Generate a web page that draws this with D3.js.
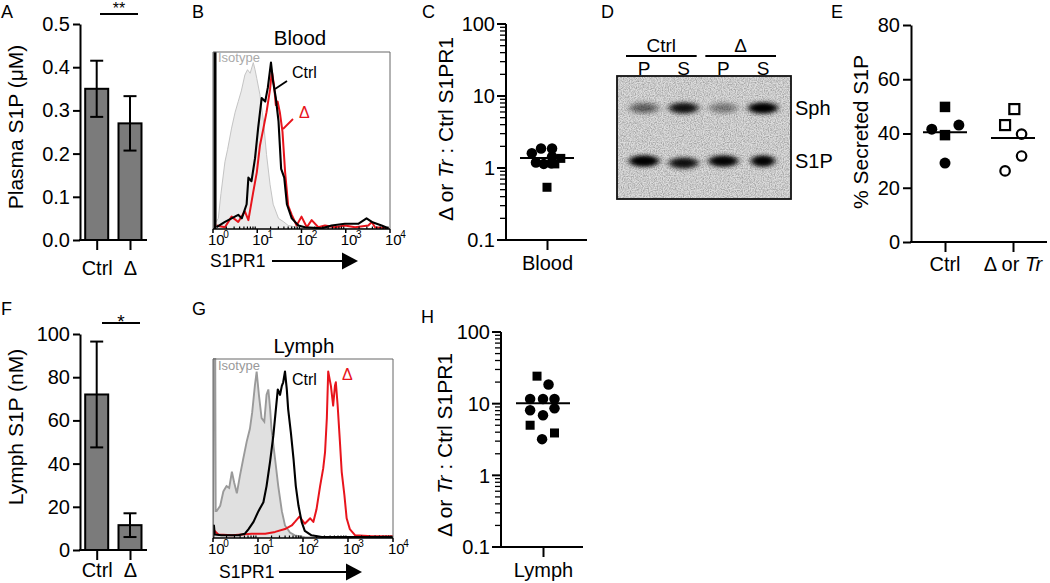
<!DOCTYPE html>
<html><head><meta charset="utf-8">
<script src="https://cdn.jsdelivr.net/npm/d3@7"></script>
<style>
html,body{margin:0;padding:0;background:#fff}
svg{display:block;font-family:"Liberation Sans",Arial,Helvetica,sans-serif}
</style>
</head><body>
<svg id="c" width="1050" height="583"></svg>
<script>
// ---------------- DATA ----------------
const barCats = ["Ctrl", "Δ"];
const plasmaMean = [0.35, 0.27];
const plasmaErr = [0.065, 0.063];
const plasmaTicks = [0, 0.1, 0.2, 0.3, 0.4, 0.5];
const lymphMean = [72, 11.5];
const lymphErr = [24.5, 5.5];
const lymphTicks = [0, 20, 40, 60, 80, 100];

// flow histograms: [log10 fluorescence, fraction of max height]
const bloodIso = [[0.0,0],[0.02,1],[0.06,1],[0.07,0.04],[0.12,0.06],[0.18,0.2],[0.27,0.38],[0.33,0.45],[0.42,0.57],[0.5,0.66],[0.57,0.72],[0.64,0.78],[0.72,0.87],[0.78,0.9],[0.84,0.88],[0.91,0.94],[0.95,0.9],[0.99,0.85],[1.06,0.76],[1.14,0.61],[1.21,0.42],[1.29,0.25],[1.36,0.14],[1.48,0.06],[1.6,0.04],[1.7,0.02],[1.9,0.01],[4,0]];
const bloodCtrl = [[0.08,0.01],[0.27,0.04],[0.42,0.06],[0.57,0.08],[0.65,0.06],[0.76,0.14],[0.8,0.29],[0.87,0.27],[0.95,0.4],[1.02,0.57],[1.1,0.74],[1.18,0.72],[1.24,0.8],[1.31,0.94],[1.36,0.83],[1.42,0.74],[1.48,0.61],[1.54,0.34],[1.61,0.29],[1.67,0.14],[1.78,0.06],[1.93,0.02],[2.08,0.01],[2.46,0.004],[2.68,0.02],[2.98,0.03],[3.29,0.03],[3.47,0.06],[3.59,0.04],[3.81,0.02],[3.96,0.004]];
const bloodDelta = [[0.08,0.02],[0.27,0.01],[0.42,0.07],[0.57,0.04],[0.72,0.1],[0.8,0.05],[0.91,0.21],[0.99,0.32],[1.06,0.47],[1.14,0.57],[1.21,0.66],[1.29,0.79],[1.33,0.89],[1.38,0.81],[1.42,0.7],[1.46,0.72],[1.51,0.66],[1.57,0.55],[1.63,0.32],[1.7,0.13],[1.78,0.08],[1.89,0.02],[2.0,0.07],[2.12,0.01],[2.23,0.05],[2.38,0.01],[2.53,0.02],[2.76,0.01],[2.98,0.02],[3.21,0.01],[3.51,0.02],[3.59,0.04],[3.66,0.01],[3.96,0.004]];
const lymphIso = [[0.0,0],[0.02,1],[0.05,1],[0.06,0.15],[0.08,0.15],[0.16,0.18],[0.23,0.26],[0.3,0.29],[0.36,0.28],[0.42,0.37],[0.47,0.31],[0.53,0.25],[0.6,0.35],[0.67,0.44],[0.75,0.54],[0.82,0.61],[0.87,0.7],[0.93,0.85],[0.97,0.93],[1.02,0.8],[1.08,0.67],[1.14,0.65],[1.19,0.8],[1.23,0.83],[1.27,0.72],[1.3,0.61],[1.38,0.44],[1.45,0.29],[1.53,0.15],[1.6,0.07],[1.71,0.03],[1.82,0.015],[2.04,0.005],[4,0]];
const lymphCtrl = [[0.005,0],[0.02,0.07],[0.04,0.02],[0.19,0.015],[0.56,0.015],[0.71,0.024],[0.79,0.05],[0.9,0.09],[1.01,0.15],[1.12,0.2],[1.19,0.29],[1.27,0.43],[1.34,0.57],[1.39,0.7],[1.44,0.83],[1.49,0.8],[1.53,0.85],[1.56,0.87],[1.6,0.93],[1.64,0.83],[1.67,0.72],[1.73,0.59],[1.79,0.44],[1.84,0.29],[1.9,0.18],[1.97,0.09],[2.04,0.04],[2.19,0.015],[2.42,0.006],[4,0.005]];
const lymphDelta = [[0.01,0.05],[0.03,0.04],[0.12,0.02],[0.42,0.015],[0.86,0.024],[1.16,0.024],[1.38,0.034],[1.6,0.05],[1.75,0.07],[1.82,0.09],[1.92,0.12],[2.04,0.08],[2.16,0.11],[2.23,0.09],[2.3,0.16],[2.38,0.29],[2.45,0.39],[2.49,0.48],[2.53,0.67],[2.56,0.93],[2.62,0.85],[2.67,0.74],[2.71,0.85],[2.73,0.87],[2.77,0.74],[2.82,0.54],[2.86,0.37],[2.92,0.24],[2.97,0.11],[3.04,0.05],[3.16,0.015],[3.53,0.01],[4.0,0.01]];
const flowDecades = [0, 1, 2, 3, 4];

// ratio scatter (C, H)
const bloodRatio = [1.60, 1.87, 1.87, 1.19, 1.14, 1.16, 1.44, 1.14, 1.36, 0.54];
const bloodShape = ["c","c","c","c","c","c","c","s","s","s"];
const bloodJitter = [-0.33, -0.13, 0.11, -0.24, -0.07, 0.09, 0.11, 0.17, 0.3, 0];
const bloodMedian = 1.38;
const lymphRatio = [24.2, 18.5, 11.6, 11.6, 11.6, 8.1, 8.6, 6.9, 5.0, 3.9, 3.2];
const lymphShape = ["s","c","c","c","c","c","c","c","s","s","c"];
const lymphJitter = [-0.13, 0.12, -0.28, 0, 0.25, -0.28, 0.25, 0, -0.28, 0.25, -0.02];
const lymphMedian = 10.1;
const logMajor = [0.1, 1, 10, 100];

// gel (D)
const gelGroups = ["Ctrl", "Δ"];
const gelLanes = ["P", "S", "P", "S"];
const gelSph = [0.42, 0.85, 0.3, 1.0];
const gelS1P = [1.0, 0.82, 0.95, 0.97];

// secreted S1P (E)
const secCats = ["Ctrl", "Δ or Tr"];
const secCtrl = [41.6, 49.8, 39.4, 43.1, 29.1];
const secCtrlShape = ["c","s","s","c","c"];
const secCtrlJitter = [-0.2, 0, 0, 0.21, 0];
const secDelta = [43.1, 49.0, 39.8, 31.7, 26.2];
const secDeltaShape = ["s","s","c","c","c"];
const secDeltaJitter = [-0.12, 0.02, 0.13, 0.13, -0.12];
const secMedian = [40.5, 38.3];
const secTicks = [0, 20, 40, 60, 80];

// ---------------- DRAW ----------------
const svg = d3.select("#c");
const defs = svg.append("defs");

function styleAxis(g, fs) {
  g.selectAll("path,line").attr("stroke", "#000").attr("stroke-width", 2);
  g.selectAll("text").attr("font-size", fs).attr("fill", "#000");
}
function letter(t, x, y) {
  svg.append("text").attr("x", x).attr("y", y).attr("font-size", 18).text(t);
}
function vlabel(x, y, parts, fs) {
  const t = svg.append("text").attr("transform", `translate(${x},${y}) rotate(-90)`)
    .attr("text-anchor", "middle").attr("font-size", fs);
  parts.forEach(p => t.append("tspan").attr("font-style", p[1] ? "italic" : null).text(p[0]));
}
function marker(g, shape, x, y, size, open) {
  if (shape === "c") {
    g.append("circle").attr("cx", x).attr("cy", y).attr("r", size / 2 - (open ? 1 : 0))
      .attr("fill", open ? "#fff" : "#000").attr("stroke", "#000").attr("stroke-width", open ? 2.2 : 0);
  } else {
    const s = size - (open ? 1.5 : 0.5);
    g.append("rect").attr("x", x - s / 2).attr("y", y - s / 2).attr("width", s).attr("height", s)
      .attr("fill", open ? "#fff" : "#000").attr("stroke", "#000").attr("stroke-width", open ? 2.2 : 0);
  }
}

// ---- Bar panels (A, F)
function barPanel(o) {
  const g = svg.append("g");
  const y = d3.scaleLinear().domain([0, o.ticks[o.ticks.length - 1]]).range([o.bottom, o.top]);
  const x = d3.scalePoint().domain(barCats).range([96.7, 130]);
  const bw = 23;
  g.selectAll("rect.bar").data(o.means).join("rect")
    .attr("x", (d, i) => x(barCats[i]) - bw / 2).attr("y", d => y(d))
    .attr("width", bw).attr("height", d => y(0) - y(d))
    .attr("fill", "#7b7b7b").attr("stroke", "#000").attr("stroke-width", 2);
  o.means.forEach((m, i) => {
    const cx = x(barCats[i]), e = o.errs[i];
    g.append("line").attr("x1", cx).attr("x2", cx).attr("y1", y(m + e)).attr("y2", y(m - e));
    g.append("line").attr("x1", cx - 6.5).attr("x2", cx + 6.5).attr("y1", y(m + e)).attr("y2", y(m + e));
    g.append("line").attr("x1", cx - 6.5).attr("x2", cx + 6.5).attr("y1", y(m - e)).attr("y2", y(m - e));
  });
  g.selectAll("line").attr("stroke", "#000").attr("stroke-width", 2);
  const ya = g.append("g").attr("transform", "translate(80,0)")
    .call(d3.axisLeft(y).tickValues(o.ticks).tickFormat(o.fmt).tickSize(7).tickSizeOuter(0).tickPadding(3));
  styleAxis(ya, 20);
  g.append("line").attr("x1", 79).attr("x2", 147).attr("y1", o.bottom).attr("y2", o.bottom)
    .attr("stroke", "#000").attr("stroke-width", 2);
  const xa = g.append("g").attr("transform", `translate(0,${o.bottom})`)
    .call(d3.axisBottom(x).tickSize(10).tickPadding(o.catPad));
  xa.select(".domain").remove();
  styleAxis(xa, 20);
  g.append("line").attr("x1", o.sig[0]).attr("x2", o.sig[1]).attr("y1", o.sigY).attr("y2", o.sigY)
    .attr("stroke", "#000").attr("stroke-width", 2);
  g.append("text").attr("x", (o.sig[0] + o.sig[1]) / 2).attr("y", o.sigTextY)
    .attr("text-anchor", "middle").attr("font-size", o.sigFs).text(o.sigText);
}
barPanel({means: plasmaMean, errs: plasmaErr, ticks: plasmaTicks, fmt: d3.format(".1f"),
  top: 24, bottom: 240, sig: [100, 138], sigY: 14, sigText: "**", sigTextY: 14, sigFs: 16, catPad: 11});
barPanel({means: lymphMean, errs: lymphErr, ticks: lymphTicks, fmt: d3.format("d"),
  top: 334, bottom: 550, sig: [102, 140], sigY: 323, sigText: "*", sigTextY: 328, sigFs: 19, catPad: 3});
vlabel(23, 127, [["Plasma S1P (μM)"]], 21);
vlabel(23, 427, [["Lymph S1P (nM)"]], 21);

// ---- Flow panels (B, G)
function flowPanel(o) {
  const g = svg.append("g");
  const x = d3.scaleLinear().domain([0, 4]).range([o.x0, o.x1]);
  const y = d3.scaleLinear().domain([0, 1]).range([o.y1, o.y0]);
  const cid = "clip" + o.id;
  defs.append("clipPath").attr("id", cid).append("rect")
    .attr("x", o.x0).attr("y", o.y0 - 1).attr("width", o.x1 - o.x0).attr("height", o.y1 - o.y0 + 1);
  const pg = g.append("g").attr("clip-path", `url(#${cid})`);
  const area = d3.area().x(d => x(d[0])).y0(y(0)).y1(d => y(d[1]));
  const line = d3.line().x(d => x(d[0])).y(d => y(d[1]));
  pg.append("path").datum(o.iso).attr("d", area).attr("fill", o.isoFill);
  pg.append("path").datum(o.iso).attr("d", line).attr("fill", "none")
    .attr("stroke", o.isoStroke).attr("stroke-width", o.isoW);
  pg.append("path").datum(o.delta).attr("d", line).attr("fill", "none")
    .attr("stroke", "#e8141c").attr("stroke-width", 2).attr("stroke-linejoin", "round");
  pg.append("path").datum(o.ctrl).attr("d", line).attr("fill", "none")
    .attr("stroke", "#000").attr("stroke-width", 2.1).attr("stroke-linejoin", "round");
  if (o.spike) pg.append("line").attr("x1", o.x0 + 2).attr("x2", o.x0 + 2).attr("y1", o.y0).attr("y2", o.y1)
    .attr("stroke", "#000").attr("stroke-width", 3);
  // frame
  g.append("path").attr("d", `M${o.x0},${o.y1}V${o.y0}H${o.x1}V${o.y1}`)
    .attr("fill", "none").attr("stroke", "#666").attr("stroke-width", 1);
  g.append("line").attr("x1", o.x0).attr("x2", o.x1).attr("y1", o.y1).attr("y2", o.y1)
    .attr("stroke", "#000").attr("stroke-width", 1.6);
  // ticks
  for (let dcd = 0; dcd < 4; dcd++) {
    for (let k = 2; k <= 9; k++) {
      const xx = x(dcd + Math.log10(k));
      g.append("line").attr("x1", xx).attr("x2", xx).attr("y1", o.y1).attr("y2", o.y1 - 2.5)
        .attr("stroke", "#000").attr("stroke-width", 1.2);
    }
  }
  flowDecades.forEach(dcd => {
    g.append("line").attr("x1", x(dcd)).attr("x2", x(dcd)).attr("y1", o.y1).attr("y2", o.y1 + 4)
      .attr("stroke", "#000").attr("stroke-width", 1.5);
    const t = g.append("text").attr("x", x(dcd) - 5).attr("y", o.y1 + 16).attr("font-size", 15);
    t.append("tspan").text("10");
    t.append("tspan").attr("font-size", 10).attr("dx", -1.5).attr("dy", -7).text(dcd);
  });
  g.append("text").attr("x", o.titleX).attr("y", o.titleY).attr("text-anchor", "middle")
    .attr("font-size", 20.5).text(o.title);
  g.append("text").attr("x", 218).attr("y", o.isoY).attr("font-size", 13).attr("fill", o.isoText).text("Isotype");
  g.append("text").attr("x", o.ctrlLab[0]).attr("y", o.ctrlLab[1]).attr("font-size", 16).text("Ctrl");
  g.append("text").attr("x", o.dLab[0]).attr("y", o.dLab[1]).attr("font-size", 16).attr("fill", "#e8141c").text("Δ");
  if (o.ctrlPtr) g.append("line").attr("x1", o.ctrlPtr[0]).attr("y1", o.ctrlPtr[1]).attr("x2", o.ctrlPtr[2]).attr("y2", o.ctrlPtr[3])
    .attr("stroke", "#000").attr("stroke-width", 1.8);
  if (o.dPtr) g.append("line").attr("x1", o.dPtr[0]).attr("y1", o.dPtr[1]).attr("x2", o.dPtr[2]).attr("y2", o.dPtr[3])
    .attr("stroke", "#e8141c").attr("stroke-width", 1.8);
  // S1PR1 arrow
  g.append("text").attr("x", o.s1x).attr("y", o.s1y).attr("font-size", 17.5).text("S1PR1");
  g.append("line").attr("x1", o.arr[0]).attr("x2", o.arr[1] - 14).attr("y1", o.arr[2]).attr("y2", o.arr[2])
    .attr("stroke", "#000").attr("stroke-width", 2);
  g.append("path").attr("d", `M${o.arr[1] - 16},${o.arr[2] - 8.5}L${o.arr[1]},${o.arr[2]}L${o.arr[1] - 16},${o.arr[2] + 8.5}Z`)
    .attr("fill", "#000");
}
flowPanel({id: "B", x0: 213, x1: 390, y0: 52, y1: 229, iso: bloodIso, ctrl: bloodCtrl, delta: bloodDelta,
  isoFill: "#ebebeb", isoStroke: "#c4c4c4", isoW: 1, isoText: "#aaa", spike: true,
  title: "Blood", titleX: 300, titleY: 45, isoY: 62,
  ctrlLab: [292, 78], dLab: [299, 118], ctrlPtr: [287, 81, 275, 89], dPtr: [293, 119, 283, 129],
  s1x: 210, s1y: 267, arr: [272, 358, 261]});
flowPanel({id: "G", x0: 213, x1: 393, y0: 359, y1: 538, iso: lymphIso, ctrl: lymphCtrl, delta: lymphDelta,
  isoFill: "#e0e0e0", isoStroke: "#9a9a9a", isoW: 1.9, isoText: "#999", spike: false,
  title: "Lymph", titleX: 304, titleY: 353, isoY: 370,
  ctrlLab: [292, 385], dLab: [342, 380],
  s1x: 219, s1y: 578, arr: [279, 362, 572]});

// ---- Log ratio panels (C, H)
function logPanel(o) {
  const g = svg.append("g");
  const y = d3.scaleLog().domain([0.1, 100]).range([o.bottom, o.top]);
  const ticks = y.ticks();
  ticks.forEach(t => {
    const major = logMajor.includes(+t.toPrecision(3));
    g.append("line").attr("x1", o.ax - (major ? 9 : 6)).attr("x2", o.ax).attr("y1", y(t)).attr("y2", y(t))
      .attr("stroke", "#000").attr("stroke-width", major ? 2 : 1.3);
  });
  logMajor.forEach(t => {
    g.append("text").attr("x", o.ax - 11).attr("y", y(t)).attr("dy", "0.36em").attr("text-anchor", "end")
      .attr("font-size", 20).text(d3.format("~g")(t));
  });
  g.append("line").attr("x1", o.ax).attr("x2", o.ax).attr("y1", o.top).attr("y2", o.bottom + 1)
    .attr("stroke", "#000").attr("stroke-width", 2);
  g.append("line").attr("x1", o.ax - 1).attr("x2", o.xEnd).attr("y1", o.bottom).attr("y2", o.bottom)
    .attr("stroke", "#000").attr("stroke-width", 2);
  const x = d3.scalePoint().domain([o.cat]).range([o.cx, o.cx]);
  const xa = g.append("g").attr("transform", `translate(0,${o.bottom})`)
    .call(d3.axisBottom(x).tickSize(10).tickPadding(6));
  xa.select(".domain").remove();
  styleAxis(xa, 20);
  const w = 46;
  o.vals.forEach((v, i) => marker(g, o.shapes[i], x(o.cat) + o.jit[i] * w, y(v), o.shapes[i] === "c" ? 10.5 : 9.5, false));
  g.append("line").attr("x1", x(o.cat) - 27).attr("x2", x(o.cat) + 27).attr("y1", y(o.median)).attr("y2", y(o.median))
    .attr("stroke", "#000").attr("stroke-width", 2);
  vlabel(o.lx, o.ly, [["Δ or "], ["Tr", true], [" : Ctrl S1PR1"]], 21);
}
logPanel({ax: 506, top: 24, bottom: 240, xEnd: 587, cx: 547, cat: "Blood", vals: bloodRatio,
  shapes: bloodShape, jit: bloodJitter, median: bloodMedian, lx: 453, ly: 129});
logPanel({ax: 501, top: 332, bottom: 547, xEnd: 583, cx: 543, cat: "Lymph", vals: lymphRatio,
  shapes: lymphShape, jit: lymphJitter, median: lymphMedian, lx: 452, ly: 445});

// ---- Gel (D)
(function () {
  const g = svg.append("g");
  const gx0 = 617, gx1 = 791, gy0 = 76, gy1 = 199;
  const f = defs.append("filter").attr("id", "noise").attr("x", 0).attr("y", 0).attr("width", "100%").attr("height", "100%");
  f.append("feTurbulence").attr("type", "fractalNoise").attr("baseFrequency", 0.85).attr("numOctaves", 2).attr("seed", 4);
  f.append("feColorMatrix").attr("type", "matrix")
    .attr("values", "0 0 0 0 0  0 0 0 0 0  0 0 0 0 0  1.6 0 0 0 -0.55");
  const blur = defs.append("filter").attr("id", "bblur").attr("x", "-50%").attr("y", "-100%").attr("width", "200%").attr("height", "300%");
  blur.append("feGaussianBlur").attr("stdDeviation", "3.2 2.2");
  const gc = "gelclip";
  defs.append("clipPath").attr("id", gc).append("rect").attr("x", gx0).attr("y", gy0).attr("width", gx1 - gx0).attr("height", gy1 - gy0);
  const inner = g.append("g").attr("clip-path", `url(#${gc})`);
  inner.append("rect").attr("x", gx0).attr("y", gy0).attr("width", gx1 - gx0).attr("height", gy1 - gy0).attr("fill", "#dcdcdc");
  inner.append("rect").attr("x", gx0).attr("y", gy0).attr("width", gx1 - gx0).attr("height", gy1 - gy0)
    .attr("filter", "url(#noise)").attr("opacity", 0.35);
  const lx = d3.scalePoint().domain(d3.range(gelLanes.length)).range([644, 763]);
  const ry = d3.scalePoint().domain(["Sph", "S1P"]).range([108, 161]);
  gelSph.forEach((v, i) => {
    inner.append("ellipse").attr("cx", lx(i)).attr("cy", ry("Sph")).attr("rx", 15).attr("ry", 5.5)
      .attr("fill", "#000").attr("opacity", v).attr("filter", "url(#bblur)");
    inner.append("ellipse").attr("cx", lx(i)).attr("cy", ry("Sph")).attr("rx", 9).attr("ry", 3)
      .attr("fill", "#000").attr("opacity", v * 0.6).attr("filter", "url(#bblur)");
  });
  gelS1P.forEach((v, i) => {
    const dy = i === 1 ? 2 : 0;
    inner.append("ellipse").attr("cx", lx(i)).attr("cy", ry("S1P") + dy).attr("rx", i === 3 ? 12 : 15).attr("ry", 5.5)
      .attr("fill", "#000").attr("opacity", v).attr("filter", "url(#bblur)");
    inner.append("ellipse").attr("cx", lx(i)).attr("cy", ry("S1P") + dy).attr("rx", i === 3 ? 8 : 10).attr("ry", 3.2)
      .attr("fill", "#000").attr("opacity", v * 0.8).attr("filter", "url(#bblur)");
  });
  g.append("rect").attr("x", gx0).attr("y", gy0).attr("width", gx1 - gx0).attr("height", gy1 - gy0)
    .attr("fill", "none").attr("stroke", "#111").attr("stroke-width", 1.8);
  gelLanes.forEach((l, i) => g.append("text").attr("x", lx(i)).attr("y", 75).attr("text-anchor", "middle")
    .attr("font-size", 19).text(l));
  gelGroups.forEach((gr, j) => {
    const a = lx(2 * j) - 18, b = lx(2 * j + 1) + 13;
    g.append("line").attr("x1", a).attr("x2", b).attr("y1", 56).attr("y2", 56).attr("stroke", "#000").attr("stroke-width", 1.8);
    g.append("text").attr("x", (a + b) / 2).attr("y", 52).attr("text-anchor", "middle").attr("font-size", 19).text(gr);
  });
  g.append("text").attr("x", 795).attr("y", ry("Sph") + 7).attr("font-size", 20).text("Sph");
  g.append("text").attr("x", 795).attr("y", ry("S1P") + 7).attr("font-size", 20).text("S1P");
})();

// ---- Secreted S1P (E)
(function () {
  const g = svg.append("g");
  const y = d3.scaleLinear().domain([0, 80]).range([242, 25]);
  const x = d3.scalePoint().domain(secCats).range([945, 1013]);
  const ya = g.append("g").attr("transform", "translate(911,0)")
    .call(d3.axisLeft(y).tickValues(secTicks).tickSize(8).tickSizeOuter(0).tickPadding(3));
  styleAxis(ya, 20);
  g.append("line").attr("x1", 910).attr("x2", 1047).attr("y1", 242).attr("y2", 242).attr("stroke", "#000").attr("stroke-width", 2);
  const xa = g.append("g").attr("transform", "translate(0,242)")
    .call(d3.axisBottom(x).tickSize(10).tickPadding(6).tickFormat(() => ""));
  xa.select(".domain").remove();
  styleAxis(xa, 20);
  secCats.forEach(c => {
    const t = g.append("text").attr("x", x(c)).attr("y", 271).attr("text-anchor", "middle").attr("font-size", 20);
    if (c === "Ctrl") t.text(c);
    else { t.append("tspan").text("Δ or "); t.append("tspan").attr("font-style", "italic").text("Tr"); }
  });
  const w = 66;
  secCtrl.forEach((v, i) => marker(g, secCtrlShape[i], x(secCats[0]) + secCtrlJitter[i] * w, y(v), 11, false));
  secDelta.forEach((v, i) => marker(g, secDeltaShape[i], x(secCats[1]) + secDeltaJitter[i] * w, y(v), 11.5, true));
  secMedian.forEach((m, i) => g.append("line").attr("x1", x(secCats[i]) - 22).attr("x2", x(secCats[i]) + 22)
    .attr("y1", y(m)).attr("y2", y(m)).attr("stroke", "#000").attr("stroke-width", 2));
  vlabel(868, 132, [["% Secreted S1P"]], 21);
})();

// panel letters
letter("A", 1, 18); letter("B", 192, 18); letter("C", 422, 18); letter("D", 601, 18); letter("E", 831, 18);
letter("F", 1, 315); letter("G", 192, 315); letter("H", 421, 323);
</script>
</body></html>
